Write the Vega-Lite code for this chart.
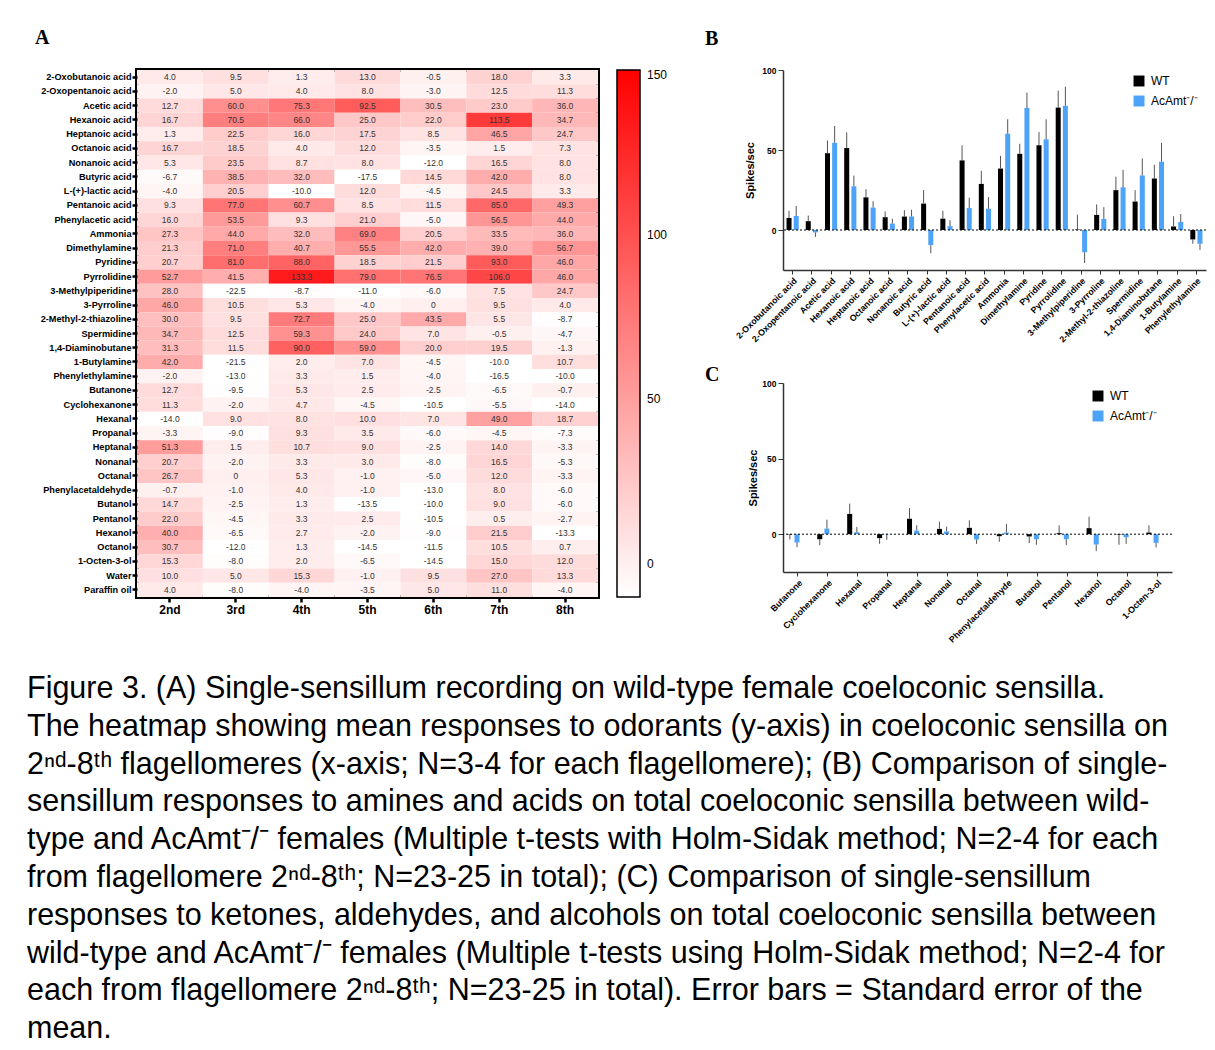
{
"$schema": "https://vega.github.io/schema/vega-lite/v6.json",
"autosize": {"type": "none"},
"padding": {"left": 137, "top": 70, "right": 1078, "bottom": 980},
"background": "white",
"config": {
  "font": "Liberation Sans",
  "view": {"stroke": null},
  "axis": {"grid": false, "labelColor": "#000", "titleColor": "#000"},
  "legend": {"padding": 0, "labelColor": "#000"},
  "locale": {"number": {"decimal": ".", "thousands": ",", "grouping": [3], "currency": ["$", ""], "minus": "-"}}
},
"title": {
  "text": [
    "Figure 3. (A) Single-sensillum recording on wild-type female coeloconic sensilla.",
    "The heatmap showing mean responses to odorants (y-axis) in coeloconic sensilla on",
    "2ⁿᵈ-8ᵗʰ flagellomeres (x-axis; N=3-4 for each flagellomere); (B) Comparison of single-",
    "sensillum responses to amines and acids on total coeloconic sensilla between wild-",
    "type and AcAmt⁻/⁻ females (Multiple t-tests with Holm-Sidak method; N=2-4 for each",
    "from flagellomere 2ⁿᵈ-8ᵗʰ; N=23-25 in total); (C) Comparison of single-sensillum",
    "responses to ketones, aldehydes, and alcohols on total coeloconic sensilla between",
    "wild-type and AcAmt⁻/⁻ females (Multiple t-tests using Holm-Sidak method; N=2-4 for",
    "each from flagellomere 2ⁿᵈ-8ᵗʰ; N=23-25 in total). Error bars = Standard error of the",
    "mean."
  ],
  "orient": "bottom", "anchor": "start", "frame": "bounds",
  "font": "Liberation Sans", "fontSize": 30.5, "fontWeight": "normal", "color": "#000",
  "lineHeight": 37.8, "baseline": "top", "offset": 30, "dx": -6
},
"bounds": "flush",
"spacing": 185,
"resolve": {"scale": {"color": "independent"}, "legend": {"color": "independent"}},
"hconcat": [
{
  "title": {"text": "A", "anchor": "start", "frame": "group", "dx": -102, "offset": 6, "font": "Liberation Serif", "fontSize": 20, "fontWeight": "bold", "baseline": "alphabetic", "color": "#000"},
  "width": 461, "height": 527,
  "view": {"stroke": "#000", "strokeWidth": 4},
  "data": {"values": [
{"o":"2-Oxobutanoic acid","f":"2nd","v":4.0},{"o":"2-Oxobutanoic acid","f":"3rd","v":9.5},{"o":"2-Oxobutanoic acid","f":"4th","v":1.3},{"o":"2-Oxobutanoic acid","f":"5th","v":13.0},{"o":"2-Oxobutanoic acid","f":"6th","v":-0.5},{"o":"2-Oxobutanoic acid","f":"7th","v":18.0},{"o":"2-Oxobutanoic acid","f":"8th","v":3.3},
{"o":"2-Oxopentanoic acid","f":"2nd","v":-2.0},{"o":"2-Oxopentanoic acid","f":"3rd","v":5.0},{"o":"2-Oxopentanoic acid","f":"4th","v":4.0},{"o":"2-Oxopentanoic acid","f":"5th","v":8.0},{"o":"2-Oxopentanoic acid","f":"6th","v":-3.0},{"o":"2-Oxopentanoic acid","f":"7th","v":12.5},{"o":"2-Oxopentanoic acid","f":"8th","v":11.3},
{"o":"Acetic acid","f":"2nd","v":12.7},{"o":"Acetic acid","f":"3rd","v":60.0},{"o":"Acetic acid","f":"4th","v":75.3},{"o":"Acetic acid","f":"5th","v":92.5},{"o":"Acetic acid","f":"6th","v":30.5},{"o":"Acetic acid","f":"7th","v":23.0},{"o":"Acetic acid","f":"8th","v":36.0},
{"o":"Hexanoic acid","f":"2nd","v":16.7},{"o":"Hexanoic acid","f":"3rd","v":70.5},{"o":"Hexanoic acid","f":"4th","v":66.0},{"o":"Hexanoic acid","f":"5th","v":25.0},{"o":"Hexanoic acid","f":"6th","v":22.0},{"o":"Hexanoic acid","f":"7th","v":113.5},{"o":"Hexanoic acid","f":"8th","v":34.7},
{"o":"Heptanoic acid","f":"2nd","v":1.3},{"o":"Heptanoic acid","f":"3rd","v":22.5},{"o":"Heptanoic acid","f":"4th","v":16.0},{"o":"Heptanoic acid","f":"5th","v":17.5},{"o":"Heptanoic acid","f":"6th","v":8.5},{"o":"Heptanoic acid","f":"7th","v":46.5},{"o":"Heptanoic acid","f":"8th","v":24.7},
{"o":"Octanoic acid","f":"2nd","v":16.7},{"o":"Octanoic acid","f":"3rd","v":18.5},{"o":"Octanoic acid","f":"4th","v":4.0},{"o":"Octanoic acid","f":"5th","v":12.0},{"o":"Octanoic acid","f":"6th","v":-3.5},{"o":"Octanoic acid","f":"7th","v":1.5},{"o":"Octanoic acid","f":"8th","v":7.3},
{"o":"Nonanoic acid","f":"2nd","v":5.3},{"o":"Nonanoic acid","f":"3rd","v":23.5},{"o":"Nonanoic acid","f":"4th","v":8.7},{"o":"Nonanoic acid","f":"5th","v":8.0},{"o":"Nonanoic acid","f":"6th","v":-12.0},{"o":"Nonanoic acid","f":"7th","v":16.5},{"o":"Nonanoic acid","f":"8th","v":8.0},
{"o":"Butyric acid","f":"2nd","v":-6.7},{"o":"Butyric acid","f":"3rd","v":38.5},{"o":"Butyric acid","f":"4th","v":32.0},{"o":"Butyric acid","f":"5th","v":-17.5},{"o":"Butyric acid","f":"6th","v":14.5},{"o":"Butyric acid","f":"7th","v":42.0},{"o":"Butyric acid","f":"8th","v":8.0},
{"o":"L-(+)-lactic acid","f":"2nd","v":-4.0},{"o":"L-(+)-lactic acid","f":"3rd","v":20.5},{"o":"L-(+)-lactic acid","f":"4th","v":-10.0},{"o":"L-(+)-lactic acid","f":"5th","v":12.0},{"o":"L-(+)-lactic acid","f":"6th","v":-4.5},{"o":"L-(+)-lactic acid","f":"7th","v":24.5},{"o":"L-(+)-lactic acid","f":"8th","v":3.3},
{"o":"Pentanoic acid","f":"2nd","v":9.3},{"o":"Pentanoic acid","f":"3rd","v":77.0},{"o":"Pentanoic acid","f":"4th","v":60.7},{"o":"Pentanoic acid","f":"5th","v":8.5},{"o":"Pentanoic acid","f":"6th","v":11.5},{"o":"Pentanoic acid","f":"7th","v":85.0},{"o":"Pentanoic acid","f":"8th","v":49.3},
{"o":"Phenylacetic acid","f":"2nd","v":16.0},{"o":"Phenylacetic acid","f":"3rd","v":53.5},{"o":"Phenylacetic acid","f":"4th","v":9.3},{"o":"Phenylacetic acid","f":"5th","v":21.0},{"o":"Phenylacetic acid","f":"6th","v":-5.0},{"o":"Phenylacetic acid","f":"7th","v":56.5},{"o":"Phenylacetic acid","f":"8th","v":44.0},
{"o":"Ammonia","f":"2nd","v":27.3},{"o":"Ammonia","f":"3rd","v":44.0},{"o":"Ammonia","f":"4th","v":32.0},{"o":"Ammonia","f":"5th","v":69.0},{"o":"Ammonia","f":"6th","v":20.5},{"o":"Ammonia","f":"7th","v":33.5},{"o":"Ammonia","f":"8th","v":36.0},
{"o":"Dimethylamine","f":"2nd","v":21.3},{"o":"Dimethylamine","f":"3rd","v":71.0},{"o":"Dimethylamine","f":"4th","v":40.7},{"o":"Dimethylamine","f":"5th","v":55.5},{"o":"Dimethylamine","f":"6th","v":42.0},{"o":"Dimethylamine","f":"7th","v":39.0},{"o":"Dimethylamine","f":"8th","v":56.7},
{"o":"Pyridine","f":"2nd","v":20.7},{"o":"Pyridine","f":"3rd","v":81.0},{"o":"Pyridine","f":"4th","v":88.0},{"o":"Pyridine","f":"5th","v":18.5},{"o":"Pyridine","f":"6th","v":21.5},{"o":"Pyridine","f":"7th","v":93.0},{"o":"Pyridine","f":"8th","v":46.0},
{"o":"Pyrrolidine","f":"2nd","v":52.7},{"o":"Pyrrolidine","f":"3rd","v":41.5},{"o":"Pyrrolidine","f":"4th","v":133.3},{"o":"Pyrrolidine","f":"5th","v":79.0},{"o":"Pyrrolidine","f":"6th","v":76.5},{"o":"Pyrrolidine","f":"7th","v":106.0},{"o":"Pyrrolidine","f":"8th","v":46.0},
{"o":"3-Methylpiperidine","f":"2nd","v":28.0},{"o":"3-Methylpiperidine","f":"3rd","v":-22.5},{"o":"3-Methylpiperidine","f":"4th","v":-8.7},{"o":"3-Methylpiperidine","f":"5th","v":-11.0},{"o":"3-Methylpiperidine","f":"6th","v":-6.0},{"o":"3-Methylpiperidine","f":"7th","v":7.5},{"o":"3-Methylpiperidine","f":"8th","v":24.7},
{"o":"3-Pyrroline","f":"2nd","v":46.0},{"o":"3-Pyrroline","f":"3rd","v":10.5},{"o":"3-Pyrroline","f":"4th","v":5.3},{"o":"3-Pyrroline","f":"5th","v":-4.0},{"o":"3-Pyrroline","f":"6th","v":0},{"o":"3-Pyrroline","f":"7th","v":9.5},{"o":"3-Pyrroline","f":"8th","v":4.0},
{"o":"2-Methyl-2-thiazoline","f":"2nd","v":30.0},{"o":"2-Methyl-2-thiazoline","f":"3rd","v":9.5},{"o":"2-Methyl-2-thiazoline","f":"4th","v":72.7},{"o":"2-Methyl-2-thiazoline","f":"5th","v":25.0},{"o":"2-Methyl-2-thiazoline","f":"6th","v":43.5},{"o":"2-Methyl-2-thiazoline","f":"7th","v":5.5},{"o":"2-Methyl-2-thiazoline","f":"8th","v":-8.7},
{"o":"Spermidine","f":"2nd","v":34.7},{"o":"Spermidine","f":"3rd","v":12.5},{"o":"Spermidine","f":"4th","v":59.3},{"o":"Spermidine","f":"5th","v":24.0},{"o":"Spermidine","f":"6th","v":7.0},{"o":"Spermidine","f":"7th","v":-0.5},{"o":"Spermidine","f":"8th","v":-4.7},
{"o":"1,4-Diaminobutane","f":"2nd","v":31.3},{"o":"1,4-Diaminobutane","f":"3rd","v":11.5},{"o":"1,4-Diaminobutane","f":"4th","v":90.0},{"o":"1,4-Diaminobutane","f":"5th","v":59.0},{"o":"1,4-Diaminobutane","f":"6th","v":20.0},{"o":"1,4-Diaminobutane","f":"7th","v":19.5},{"o":"1,4-Diaminobutane","f":"8th","v":-1.3},
{"o":"1-Butylamine","f":"2nd","v":42.0},{"o":"1-Butylamine","f":"3rd","v":-21.5},{"o":"1-Butylamine","f":"4th","v":2.0},{"o":"1-Butylamine","f":"5th","v":7.0},{"o":"1-Butylamine","f":"6th","v":-4.5},{"o":"1-Butylamine","f":"7th","v":-10.0},{"o":"1-Butylamine","f":"8th","v":10.7},
{"o":"Phenylethylamine","f":"2nd","v":-2.0},{"o":"Phenylethylamine","f":"3rd","v":-13.0},{"o":"Phenylethylamine","f":"4th","v":3.3},{"o":"Phenylethylamine","f":"5th","v":1.5},{"o":"Phenylethylamine","f":"6th","v":-4.0},{"o":"Phenylethylamine","f":"7th","v":-16.5},{"o":"Phenylethylamine","f":"8th","v":-10.0},
{"o":"Butanone","f":"2nd","v":12.7},{"o":"Butanone","f":"3rd","v":-9.5},{"o":"Butanone","f":"4th","v":5.3},{"o":"Butanone","f":"5th","v":2.5},{"o":"Butanone","f":"6th","v":-2.5},{"o":"Butanone","f":"7th","v":-6.5},{"o":"Butanone","f":"8th","v":-0.7},
{"o":"Cyclohexanone","f":"2nd","v":11.3},{"o":"Cyclohexanone","f":"3rd","v":-2.0},{"o":"Cyclohexanone","f":"4th","v":4.7},{"o":"Cyclohexanone","f":"5th","v":-4.5},{"o":"Cyclohexanone","f":"6th","v":-10.5},{"o":"Cyclohexanone","f":"7th","v":-5.5},{"o":"Cyclohexanone","f":"8th","v":-14.0},
{"o":"Hexanal","f":"2nd","v":-14.0},{"o":"Hexanal","f":"3rd","v":9.0},{"o":"Hexanal","f":"4th","v":8.0},{"o":"Hexanal","f":"5th","v":10.0},{"o":"Hexanal","f":"6th","v":7.0},{"o":"Hexanal","f":"7th","v":49.0},{"o":"Hexanal","f":"8th","v":18.7},
{"o":"Propanal","f":"2nd","v":-3.3},{"o":"Propanal","f":"3rd","v":-9.0},{"o":"Propanal","f":"4th","v":9.3},{"o":"Propanal","f":"5th","v":3.5},{"o":"Propanal","f":"6th","v":-6.0},{"o":"Propanal","f":"7th","v":-4.5},{"o":"Propanal","f":"8th","v":-7.3},
{"o":"Heptanal","f":"2nd","v":51.3},{"o":"Heptanal","f":"3rd","v":1.5},{"o":"Heptanal","f":"4th","v":10.7},{"o":"Heptanal","f":"5th","v":9.0},{"o":"Heptanal","f":"6th","v":-2.5},{"o":"Heptanal","f":"7th","v":14.0},{"o":"Heptanal","f":"8th","v":-3.3},
{"o":"Nonanal","f":"2nd","v":20.7},{"o":"Nonanal","f":"3rd","v":-2.0},{"o":"Nonanal","f":"4th","v":3.3},{"o":"Nonanal","f":"5th","v":3.0},{"o":"Nonanal","f":"6th","v":-8.0},{"o":"Nonanal","f":"7th","v":16.5},{"o":"Nonanal","f":"8th","v":-5.3},
{"o":"Octanal","f":"2nd","v":26.7},{"o":"Octanal","f":"3rd","v":0},{"o":"Octanal","f":"4th","v":5.3},{"o":"Octanal","f":"5th","v":-1.0},{"o":"Octanal","f":"6th","v":-5.0},{"o":"Octanal","f":"7th","v":12.0},{"o":"Octanal","f":"8th","v":-3.3},
{"o":"Phenylacetaldehyde","f":"2nd","v":-0.7},{"o":"Phenylacetaldehyde","f":"3rd","v":-1.0},{"o":"Phenylacetaldehyde","f":"4th","v":4.0},{"o":"Phenylacetaldehyde","f":"5th","v":-1.0},{"o":"Phenylacetaldehyde","f":"6th","v":-13.0},{"o":"Phenylacetaldehyde","f":"7th","v":8.0},{"o":"Phenylacetaldehyde","f":"8th","v":-6.0},
{"o":"Butanol","f":"2nd","v":14.7},{"o":"Butanol","f":"3rd","v":-2.5},{"o":"Butanol","f":"4th","v":1.3},{"o":"Butanol","f":"5th","v":-13.5},{"o":"Butanol","f":"6th","v":-10.0},{"o":"Butanol","f":"7th","v":9.0},{"o":"Butanol","f":"8th","v":-6.0},
{"o":"Pentanol","f":"2nd","v":22.0},{"o":"Pentanol","f":"3rd","v":-4.5},{"o":"Pentanol","f":"4th","v":3.3},{"o":"Pentanol","f":"5th","v":2.5},{"o":"Pentanol","f":"6th","v":-10.5},{"o":"Pentanol","f":"7th","v":0.5},{"o":"Pentanol","f":"8th","v":-2.7},
{"o":"Hexanol","f":"2nd","v":40.0},{"o":"Hexanol","f":"3rd","v":-6.5},{"o":"Hexanol","f":"4th","v":2.7},{"o":"Hexanol","f":"5th","v":-2.0},{"o":"Hexanol","f":"6th","v":-9.0},{"o":"Hexanol","f":"7th","v":21.5},{"o":"Hexanol","f":"8th","v":-13.3},
{"o":"Octanol","f":"2nd","v":30.7},{"o":"Octanol","f":"3rd","v":-12.0},{"o":"Octanol","f":"4th","v":1.3},{"o":"Octanol","f":"5th","v":-14.5},{"o":"Octanol","f":"6th","v":-11.5},{"o":"Octanol","f":"7th","v":10.5},{"o":"Octanol","f":"8th","v":0.7},
{"o":"1-Octen-3-ol","f":"2nd","v":15.3},{"o":"1-Octen-3-ol","f":"3rd","v":-8.0},{"o":"1-Octen-3-ol","f":"4th","v":2.0},{"o":"1-Octen-3-ol","f":"5th","v":-6.5},{"o":"1-Octen-3-ol","f":"6th","v":-14.5},{"o":"1-Octen-3-ol","f":"7th","v":15.0},{"o":"1-Octen-3-ol","f":"8th","v":12.0},
{"o":"Water","f":"2nd","v":10.0},{"o":"Water","f":"3rd","v":5.0},{"o":"Water","f":"4th","v":15.3},{"o":"Water","f":"5th","v":-1.0},{"o":"Water","f":"6th","v":9.5},{"o":"Water","f":"7th","v":27.0},{"o":"Water","f":"8th","v":13.3},
{"o":"Paraffin oil","f":"2nd","v":4.0},{"o":"Paraffin oil","f":"3rd","v":-8.0},{"o":"Paraffin oil","f":"4th","v":-4.0},{"o":"Paraffin oil","f":"5th","v":-3.5},{"o":"Paraffin oil","f":"6th","v":5.0},{"o":"Paraffin oil","f":"7th","v":11.0},{"o":"Paraffin oil","f":"8th","v":-4.0}
  ]},
  "encoding": {
    "x": {"field": "f", "type": "ordinal", "sort": null, "scale": {"padding": 0},
      "axis": {"title": null, "labelAngle": 0, "labelFontSize": 12, "labelFontWeight": "bold", "tickSize": 5, "tickWidth": 2.5, "tickColor": "#000", "domain": false, "labelPadding": 2}},
    "y": {"field": "o", "type": "ordinal", "sort": null, "scale": {"padding": 0},
      "axis": {"title": null, "labelFontSize": 9.2, "labelFontWeight": "bold", "tickSize": 5, "tickWidth": 2.5, "tickColor": "#000", "domain": false, "labelPadding": 1}}
  },
  "layer": [
    {"mark": {"type": "rect"},
     "encoding": {"color": {"field": "v", "type": "quantitative",
       "scale": {"domain": [-10, 150], "range": ["#ffffff", "#ff0000"], "interpolate": "rgb", "clamp": true},
       "legend": {"title": null, "direction": "vertical", "values": [0, 50, 100, 150], "gradientLength": 527, "gradientThickness": 23, "gradientStrokeColor": "#000", "gradientStrokeWidth": 1.5, "labelFontSize": 12, "labelOffset": 7, "offset": 19, "padding": 0, "labelOverlap": false}}}},
    {"mark": {"type": "text", "fontSize": 8.5, "color": "#333"},
     "encoding": {"text": {"condition": {"test": "datum.v === 0", "value": "0"}, "field": "v", "type": "quantitative", "format": ".1f"}}}
  ]
},
{
  "bounds": "flush",
  "spacing": 113,
  "resolve": {"scale": {"color": "independent"}, "legend": {"color": "independent"}},
  "vconcat": [
  {
    "title": {"text": "B", "anchor": "start", "frame": "group", "dx": -78, "offset": 1, "font": "Liberation Serif", "fontSize": 20, "fontWeight": "bold", "baseline": "alphabetic", "color": "#000"},
    "width": 423, "height": 200,
    "data": {"values": [
{"o":"2-Oxobutanoic acid","g":"WT","m":7.5,"e":12},{"o":"2-Oxobutanoic acid","g":"AcAmt⁻/⁻","m":8.8,"e":15},
{"o":"2-Oxopentanoic acid","g":"WT","m":5.5,"e":9},{"o":"2-Oxopentanoic acid","g":"AcAmt⁻/⁻","m":-1.5,"e":-4.3},
{"o":"Acetic acid","g":"WT","m":48,"e":56},{"o":"Acetic acid","g":"AcAmt⁻/⁻","m":54.5,"e":65},
{"o":"Hexanoic acid","g":"WT","m":51.2,"e":61},{"o":"Hexanoic acid","g":"AcAmt⁻/⁻","m":27.3,"e":34},
{"o":"Heptanoic acid","g":"WT","m":20.4,"e":25.5},{"o":"Heptanoic acid","g":"AcAmt⁻/⁻","m":14,"e":18},
{"o":"Octanoic acid","g":"WT","m":8,"e":11.6},{"o":"Octanoic acid","g":"AcAmt⁻/⁻","m":4,"e":7},
{"o":"Nonanoic acid","g":"WT","m":8.4,"e":12.4},{"o":"Nonanoic acid","g":"AcAmt⁻/⁻","m":8.4,"e":12.7},
{"o":"Butyric acid","g":"WT","m":16.5,"e":25},{"o":"Butyric acid","g":"AcAmt⁻/⁻","m":-9.4,"e":-14.5},
{"o":"L-(+)-lactic acid","g":"WT","m":7.1,"e":12},{"o":"L-(+)-lactic acid","g":"AcAmt⁻/⁻","m":2.4,"e":6.1},
{"o":"Pentanoic acid","g":"WT","m":43.5,"e":52.9},{"o":"Pentanoic acid","g":"AcAmt⁻/⁻","m":13.7,"e":20.2},
{"o":"Phenylacetic acid","g":"WT","m":28.8,"e":37},{"o":"Phenylacetic acid","g":"AcAmt⁻/⁻","m":13.3,"e":20.6},
{"o":"Ammonia","g":"WT","m":38.4,"e":46.3},{"o":"Ammonia","g":"AcAmt⁻/⁻","m":60.2,"e":69.2},
{"o":"Dimethylamine","g":"WT","m":47.6,"e":53.9},{"o":"Dimethylamine","g":"AcAmt⁻/⁻","m":76.3,"e":85.9},
{"o":"Pyridine","g":"WT","m":52.9,"e":61.2},{"o":"Pyridine","g":"AcAmt⁻/⁻","m":56.7,"e":69.2},
{"o":"Pyrrolidine","g":"WT","m":76.5,"e":87.1},{"o":"Pyrrolidine","g":"AcAmt⁻/⁻","m":77.6,"e":89.6},
{"o":"3-Methylpiperidine","g":"WT","m":0.3,"e":9.6},{"o":"3-Methylpiperidine","g":"AcAmt⁻/⁻","m":-13.9,"e":-20.6},
{"o":"3-Pyrroline","g":"WT","m":9.4,"e":16},{"o":"3-Pyrroline","g":"AcAmt⁻/⁻","m":6.9,"e":14.3},
{"o":"2-Methyl-2-thiazoline","g":"WT","m":24.9,"e":33.3},{"o":"2-Methyl-2-thiazoline","g":"AcAmt⁻/⁻","m":26.7,"e":37.6},
{"o":"Spermidine","g":"WT","m":17.8,"e":24.9},{"o":"Spermidine","g":"AcAmt⁻/⁻","m":34.1,"e":44.7},
{"o":"1,4-Diaminobutane","g":"WT","m":32.2,"e":40.8},{"o":"1,4-Diaminobutane","g":"AcAmt⁻/⁻","m":42.7,"e":54.5},
{"o":"1-Butylamine","g":"WT","m":2.2,"e":8.6},{"o":"1-Butylamine","g":"AcAmt⁻/⁻","m":5.1,"e":10},
{"o":"Phenylethylamine","g":"WT","m":-5.9,"e":-8.6},{"o":"Phenylethylamine","g":"AcAmt⁻/⁻","m":-8.6,"e":-12.4}
    ]},
    "layer": [
      {"mark": {"type": "bar"},
       "encoding": {
         "x": {"field": "o", "type": "nominal", "sort": null, "scale": {"paddingInner": 0.15, "paddingOuter": 0.075},
           "axis": {"title": null, "labelAngle": -45, "labelFontSize": 8.8, "labelFontWeight": "bold", "tickSize": 4, "domainColor": "#333", "tickColor": "#333", "domainWidth": 1.5, "labelPadding": 2}},
         "xOffset": {"field": "g", "type": "nominal", "sort": null, "scale": {"paddingInner": 0.3, "paddingOuter": 0.29}},
         "y": {"field": "m", "type": "quantitative", "title": "Spikes/sec", "scale": {"domain": [-25, 100], "nice": false},
           "axis": {"values": [0, 50, 100], "titleFontSize": 11, "titleFontWeight": "bold", "labelFontSize": 8.5, "labelFontWeight": "bold", "tickSize": 5, "domainColor": "#333", "tickColor": "#333", "domainWidth": 1.5, "titlePadding": 6}},
         "color": {"field": "g", "type": "nominal", "sort": null, "scale": {"domain": ["WT", "AcAmt⁻/⁻"], "range": ["#000000", "#4da3f7"]},
           "legend": {"title": null, "orient": "none", "legendX": 350, "legendY": 5, "symbolType": "square", "symbolSize": 120, "symbolStrokeWidth": 0, "labelFontSize": 12, "labelOffset": 6, "rowPadding": 8, "padding": 0}}
       }},
      {"mark": {"type": "rule", "color": "#555", "strokeWidth": 1},
       "encoding": {
         "x": {"field": "o", "type": "nominal", "sort": null},
         "xOffset": {"field": "g", "type": "nominal", "sort": null},
         "y": {"field": "m", "type": "quantitative", "title": "Spikes/sec"},
         "y2": {"field": "e"}
       }},
      {"data": {"values": [{}]},
       "mark": {"type": "rule", "color": "#000", "strokeWidth": 1, "strokeDash": [2, 2]},
       "encoding": {"y": {"datum": 0, "type": "quantitative", "title": "Spikes/sec"}}}
    ]
  },
  {
    "title": {"text": "C", "anchor": "start", "frame": "group", "dx": -78, "offset": -22, "font": "Liberation Serif", "fontSize": 20, "fontWeight": "bold", "baseline": "alphabetic", "color": "#000"},
    "width": 389, "height": 189,
    "data": {"values": [
{"o":"Butanone","g":"WT","m":-0.3,"e":-3.5},{"o":"Butanone","g":"AcAmt⁻/⁻","m":-5.5,"e":-8.6},
{"o":"Cyclohexanone","g":"WT","m":-3.3,"e":-7.2},{"o":"Cyclohexanone","g":"AcAmt⁻/⁻","m":3.7,"e":9.6},
{"o":"Hexanal","g":"WT","m":13.4,"e":20.2},{"o":"Hexanal","g":"AcAmt⁻/⁻","m":1.3,"e":4.8},
{"o":"Propanal","g":"WT","m":-2.6,"e":-6.4},{"o":"Propanal","g":"AcAmt⁻/⁻","m":-0.2,"e":-3.7},
{"o":"Heptanal","g":"WT","m":10.3,"e":17.3},{"o":"Heptanal","g":"AcAmt⁻/⁻","m":2.4,"e":5.9},
{"o":"Nonanal","g":"WT","m":3.5,"e":8.3},{"o":"Nonanal","g":"AcAmt⁻/⁻","m":1.8,"e":5.0},
{"o":"Octanal","g":"WT","m":4.2,"e":9.2},{"o":"Octanal","g":"AcAmt⁻/⁻","m":-3.5,"e":-6.4},
{"o":"Phenylacetaldehyde","g":"WT","m":-1.3,"e":-5},{"o":"Phenylacetaldehyde","g":"AcAmt⁻/⁻","m":1.1,"e":6.8},
{"o":"Butanol","g":"WT","m":-1.5,"e":-5.9},{"o":"Butanol","g":"AcAmt⁻/⁻","m":-3.3,"e":-7},
{"o":"Pentanol","g":"WT","m":0.7,"e":5.9},{"o":"Pentanol","g":"AcAmt⁻/⁻","m":-3.3,"e":-7.2},
{"o":"Hexanol","g":"WT","m":4,"e":11.6},{"o":"Hexanol","g":"AcAmt⁻/⁻","m":-6.8,"e":-11.2},
{"o":"Octanol","g":"WT","m":-0.3,"e":-7},{"o":"Octanol","g":"AcAmt⁻/⁻","m":-2,"e":-6.4},
{"o":"1-Octen-3-ol","g":"WT","m":1.1,"e":5.9},{"o":"1-Octen-3-ol","g":"AcAmt⁻/⁻","m":-5.7,"e":-8.8}
    ]},
    "layer": [
      {"mark": {"type": "bar"},
       "encoding": {
         "x": {"field": "o", "type": "nominal", "sort": null, "scale": {"paddingInner": 0.15, "paddingOuter": 0.075},
           "axis": {"title": null, "labelAngle": -45, "labelFontSize": 8.8, "labelFontWeight": "bold", "tickSize": 4, "domainColor": "#333", "tickColor": "#333", "domainWidth": 1.5, "labelPadding": 2}},
         "xOffset": {"field": "g", "type": "nominal", "sort": null, "scale": {"paddingInner": 0.39, "paddingOuter": 0.35}},
         "y": {"field": "m", "type": "quantitative", "title": "Spikes/sec", "scale": {"domain": [-25, 100], "nice": false},
           "axis": {"values": [0, 50, 100], "titleFontSize": 11, "titleFontWeight": "bold", "labelFontSize": 8.5, "labelFontWeight": "bold", "tickSize": 5, "domainColor": "#333", "tickColor": "#333", "domainWidth": 1.5, "titlePadding": 3}},
         "color": {"field": "g", "type": "nominal", "sort": null, "scale": {"domain": ["WT", "AcAmt⁻/⁻"], "range": ["#000000", "#4da3f7"]},
           "legend": {"title": null, "orient": "none", "legendX": 309, "legendY": 7, "symbolType": "square", "symbolSize": 120, "symbolStrokeWidth": 0, "labelFontSize": 12, "labelOffset": 6, "rowPadding": 8, "padding": 0}}
       }},
      {"mark": {"type": "rule", "color": "#555", "strokeWidth": 1},
       "encoding": {
         "x": {"field": "o", "type": "nominal", "sort": null},
         "xOffset": {"field": "g", "type": "nominal", "sort": null},
         "y": {"field": "m", "type": "quantitative", "title": "Spikes/sec"},
         "y2": {"field": "e"}
       }},
      {"data": {"values": [{}]},
       "mark": {"type": "rule", "color": "#000", "strokeWidth": 1, "strokeDash": [2, 2]},
       "encoding": {"y": {"datum": 0, "type": "quantitative", "title": "Spikes/sec"}}}
    ]
  }
  ]
}
]
}
